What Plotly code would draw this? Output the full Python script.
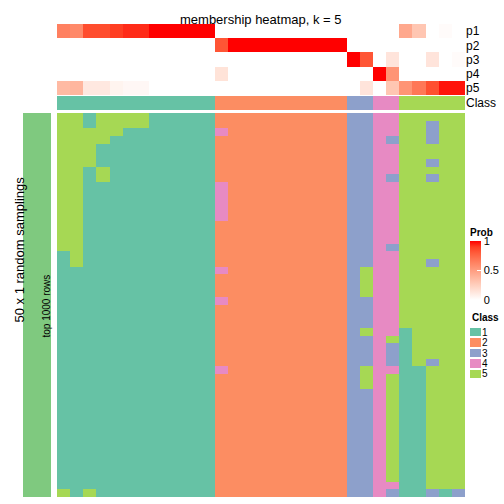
import plotly.graph_objects as go
import numpy as np

title_text = "membership heatmap, k = 5"
prob_labels = ["p1", "p2", "p3", "p4", "p5"]
class_labels = ["1", "2", "3", "4", "5"]
class_colors = ["#66C2A5", "#FC8D62", "#8DA0CB", "#E78AC3", "#A6D854"]
column_class = [1] * 12 + [2] * 10 + [3] * 2 + [4] * 2 + [5] * 5

p1 = [0.64, 0.60, 0.85, 0.85, 0.90, 0.93, 0.93, 1, 1, 1, 1, 1] + [0] * 14 + [0.45, 0.30, 0, 0.02, 0]
p2 = [0] * 12 + [0.82] + [1] * 9 + [0] * 9
p3 = [0] * 22 + [1, 0.82, 0, 0.14, 0, 0, 0.14, 0, 0.02]
p4 = [0] * 12 + [0.15] + [0] * 11 + [1, 0.55] + [0] * 5
p5 = [0.36, 0.38, 0.12, 0.12, 0.06, 0.04, 0.04, 0, 0, 0, 0, 0] + [0] * 11 + [0.14, 0, 0.30, 0.55, 0.68, 0.84, 0.97, 0.97]

# 50 random samplings x 31 samples, class labels
sampling_rows = [
    "551555511111" "2222222222" "33" "44" "55555",
    "551555511111" "2222222222" "33" "44" "55355",
    "555551111111" "4222222222" "33" "44" "55355",
    "555511111111" "2222222222" "33" "43" "55355",
    "555111111111" "2222222222" "33" "44" "55555",
    "555111111111" "2222222222" "33" "44" "55555",
    "555111111111" "2222222222" "33" "44" "55355",
    "551511111111" "2222222222" "33" "44" "55555",
    "551511111111" "2222222222" "33" "43" "55355",
    "551111111111" "4222222222" "33" "44" "55555",
    "551111111111" "4222222222" "33" "44" "55555",
    "551111111111" "4222222222" "33" "44" "55555",
    "551111111111" "4222222222" "33" "44" "55555",
    "551111111111" "4222222222" "33" "44" "55555",
    "551111111111" "2222222222" "33" "44" "55555",
    "551111111111" "2222222222" "33" "44" "55555",
    "551111111111" "2222222222" "33" "44" "55555",
    "551111111111" "2222222222" "33" "43" "55555",
    "151111111111" "2222222222" "33" "44" "55555",
    "151111111111" "2222222222" "33" "44" "55355",
    "111111111111" "4222222222" "35" "44" "55555",
    "111111111111" "2222222222" "35" "44" "55555",
    "111111111111" "2222222222" "35" "44" "55555",
    "111111111111" "2222222222" "35" "44" "55555",
    "111111111111" "4222222222" "33" "44" "55555",
    "111111111111" "2222222222" "33" "44" "55555",
    "111111111111" "2222222222" "33" "44" "55555",
    "111111111111" "2222222222" "33" "44" "55555",
    "111111111111" "2222222222" "35" "44" "15555",
    "111111111111" "2222222222" "33" "45" "15555",
    "111111111111" "2222222222" "33" "43" "15555",
    "111111111111" "2222222222" "33" "43" "15555",
    "111111111111" "2222222222" "33" "43" "15355",
    "111111111111" "4222222222" "35" "44" "11555",
    "111111111111" "2222222222" "35" "45" "11555",
    "111111111111" "2222222222" "35" "45" "11555",
    "111111111111" "2222222222" "33" "45" "11555",
    "111111111111" "2222222222" "33" "45" "11555",
    "111111111111" "2222222222" "33" "45" "11555",
    "111111111111" "2222222222" "33" "45" "11555",
    "111111111111" "2222222222" "33" "45" "11555",
    "111111111111" "2222222222" "33" "45" "11555",
    "111111111111" "2222222222" "33" "45" "11555",
    "111111111111" "2222222222" "33" "45" "11555",
    "111111111111" "2222222222" "33" "45" "11555",
    "111111111111" "2222222222" "33" "45" "11555",
    "111111111111" "2222222222" "33" "45" "11555",
    "111111111111" "2222222222" "33" "45" "11555",
    "111111111111" "2222222222" "33" "44" "11555",
    "515111111111" "2222222222" "33" "43" "11313",
]
left_label = "top 1000 rows"
outer_label = "50 x 1 random samplings"

FONT = "Liberation Sans, Arial, sans-serif"
W = H = 504


def px_x(v):
    return v / W


def px_y(v):
    return 1 - v / H


def lab_white_red(n=11):
    # interpolate white -> red in CIE Lab, as in the reference colour mapping
    def srgb_to_lin(c):
        c = np.asarray(c, float)
        return np.where(c <= 0.04045, c / 12.92, ((c + 0.055) / 1.055) ** 2.4)

    def lin_to_srgb(c):
        c = np.clip(c, 0, 1)
        return np.where(c <= 0.0031308, 12.92 * c, 1.055 * c ** (1 / 2.4) - 0.055)

    M = np.array([[0.4124, 0.3576, 0.1805], [0.2126, 0.7152, 0.0722], [0.0193, 0.1192, 0.9505]])
    Minv = np.linalg.inv(M)
    wp = np.array([0.95047, 1.0, 1.08883])

    def f(t):
        return np.where(t > (6 / 29) ** 3, np.cbrt(t), t / (3 * (6 / 29) ** 2) + 4 / 29)

    def finv(t):
        return np.where(t > 6 / 29, t ** 3, 3 * (6 / 29) ** 2 * (t - 4 / 29))

    def to_lab(rgb):
        xyz = M @ srgb_to_lin(rgb) / wp
        fx, fy, fz = f(xyz)
        return np.array([116 * fy - 16, 500 * (fx - fy), 200 * (fy - fz)])

    def from_lab(lab):
        L, a, b = lab
        fy = (L + 16) / 116
        xyz = np.array([finv(fy + a / 500), finv(fy), finv(fy - b / 200)]) * wp
        return lin_to_srgb(Minv @ xyz)

    w, r = to_lab([1, 1, 1]), to_lab([1, 0, 0])
    out = []
    for t in np.linspace(0, 1, n):
        c = from_lab(w + (r - w) * t)
        c = np.round(c * 255).astype(int)
        out.append([float(t), "rgb(%d,%d,%d)" % tuple(c)])
    return out


def discrete_scale(colors):
    n = len(colors)
    sc = []
    for i, c in enumerate(colors):
        sc.append([i / n, c])
        sc.append([(i + 1) / n, c])
    return sc


prob_z = [p1, p2, p3, p4, p5]
main_z = [[int(ch) for ch in row] for row in sampling_rows]
n_cols = len(column_class)
n_rows = len(main_z)
cscale = discrete_scale(class_colors)

fig = go.Figure()

fig.add_trace(go.Heatmap(
    z=prob_z, x=list(range(n_cols)), y=list(range(5)),
    xaxis="x", yaxis="y2", zmin=0, zmax=1,
    colorscale=lab_white_red(), hoverinfo="skip",
    colorbar=dict(
        x=px_x(470), xanchor="left", xpad=0, ypad=0,
        y=px_y(225), yanchor="top",
        len=75, lenmode="pixels", thickness=11, thicknessmode="pixels",
        outlinewidth=0,
        title=dict(text="<b>Prob</b>", side="top", font=dict(size=10, family=FONT)),
        tickvals=[0, 0.5, 1], ticktext=["0", "0.5", "1"], ticks="inside",
        tickcolor="white", ticklen=4, tickfont=dict(size=11, family=FONT),
    ),
))

fig.add_trace(go.Heatmap(
    z=[column_class], x=list(range(n_cols)), y=[0],
    xaxis="x", yaxis="y3", zmin=0.5, zmax=5.5,
    colorscale=cscale, showscale=False, hoverinfo="skip",
))

fig.add_trace(go.Heatmap(
    z=main_z, x=list(range(n_cols)), y=list(range(n_rows)),
    xaxis="x", yaxis="y", zmin=0.5, zmax=5.5,
    colorscale=cscale, showscale=False, hoverinfo="skip",
))

fig.add_trace(go.Heatmap(
    z=[[1]], x=[0], y=[0], xaxis="x2", yaxis="y4",
    colorscale=[[0, "#7FC97F"], [1, "#7FC97F"]], showscale=False, hoverinfo="skip",
))

fig.add_trace(go.Heatmap(
    z=[[1], [2], [3], [4], [5]], x=[0], y=list(range(5)),
    xaxis="x3", yaxis="y5", zmin=0.5, zmax=5.5, ygap=2,
    colorscale=cscale, showscale=False, hoverinfo="skip",
))

hidden = dict(showgrid=False, zeroline=False, showticklabels=False, ticks="", showline=False)

fig.update_layout(
    width=W, height=H, margin=dict(l=0, r=0, t=0, b=0, autoexpand=False),
    paper_bgcolor="white", plot_bgcolor="white",
    font=dict(family=FONT, color="black"),
    xaxis=dict(domain=[px_x(57), px_x(465)], range=[-0.5, n_cols - 0.5], anchor="y", **hidden),
    yaxis=dict(domain=[px_y(497), px_y(113)], range=[n_rows - 0.5, -0.5], anchor="x", **hidden),
    yaxis2=dict(domain=[px_y(95), px_y(24)], range=[4.5, -0.5], anchor="x", side="right",
                showgrid=False, zeroline=False, ticks="", tickvals=list(range(5)),
                ticktext=prob_labels, tickfont=dict(size=12, family=FONT)),
    yaxis3=dict(domain=[px_y(110), px_y(96)], range=[0.5, -0.5], anchor="x", side="right",
                showgrid=False, zeroline=False, ticks="", tickvals=[0],
                ticktext=["Class"], tickfont=dict(size=12, family=FONT)),
    xaxis2=dict(domain=[px_x(23), px_x(51)], range=[-0.5, 0.5], anchor="y4", **hidden),
    yaxis4=dict(domain=[px_y(497), px_y(113)], range=[0.5, -0.5], anchor="x2", **hidden),
    xaxis3=dict(domain=[px_x(470), px_x(481)], range=[-0.5, 0.5], anchor="y5", **hidden),
    yaxis5=dict(domain=[px_y(379), px_y(327)], range=[4.5, -0.5], anchor="x3", side="right",
                showgrid=False, zeroline=False, ticks="", tickvals=list(range(5)),
                ticktext=class_labels, tickfont=dict(size=10, family=FONT)),
    annotations=[
        dict(text=title_text, x=px_x(261), y=px_y(10), xref="paper", yref="paper",
             showarrow=False, font=dict(size=13, family=FONT)),
        dict(text=left_label, x=px_x(38), y=px_y(306), xref="paper", yref="paper",
             showarrow=False, textangle=-90, font=dict(size=10, family=FONT)),
        dict(text=outer_label, x=px_x(9), y=px_y(250), xref="paper", yref="paper",
             showarrow=False, textangle=-90, font=dict(size=13, family=FONT)),
        dict(text="<b>Class</b>", x=px_x(470), y=px_y(317), xref="paper", yref="paper",
             xanchor="left", showarrow=False, font=dict(size=10, family=FONT)),
    ],
)

fig.write_html("out.html", config={"displayModeBar": False},
               post_script="document.body.style.margin='0';document.body.style.padding='0';")
